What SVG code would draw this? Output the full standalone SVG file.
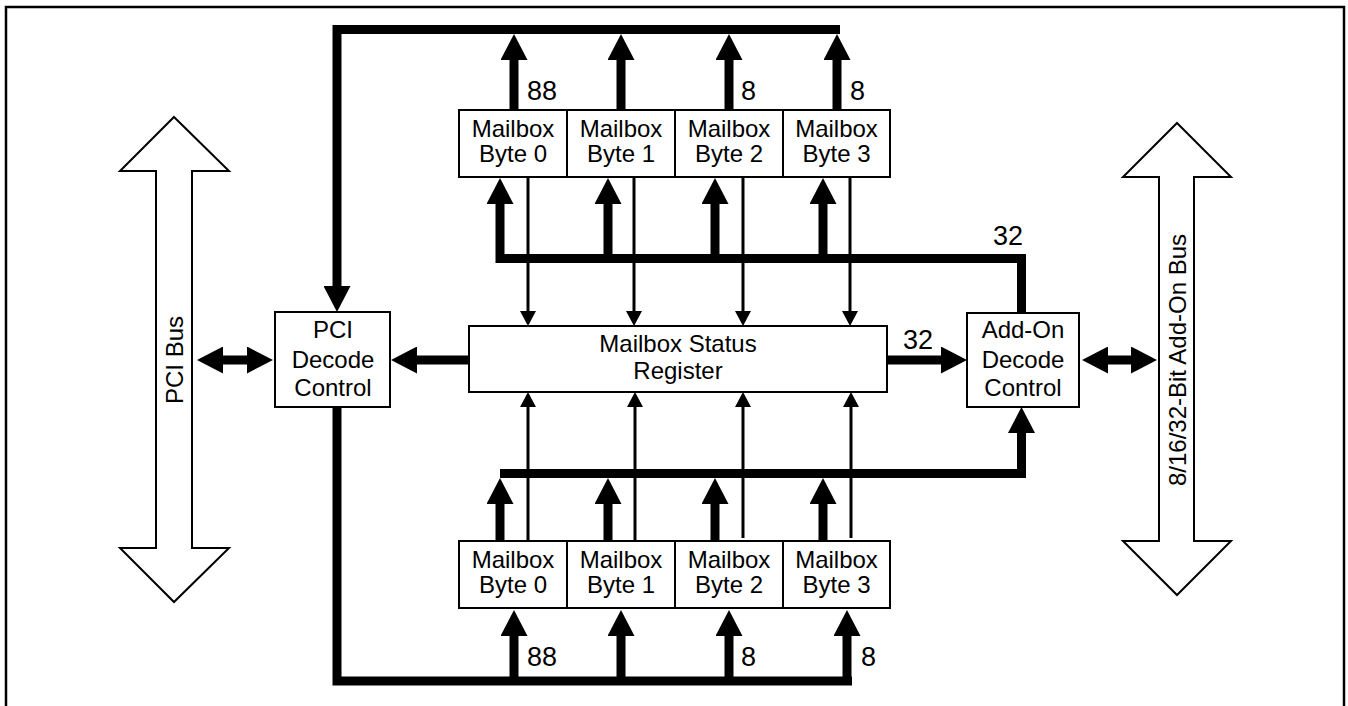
<svg xmlns="http://www.w3.org/2000/svg" width="1348" height="706" viewBox="0 0 1348 706">
<style>
text{font-family:"Liberation Sans",Arial,sans-serif;font-size:24px;fill:#000}
.c{text-anchor:middle}
.n{font-size:27px}
.box{fill:#fff;stroke:#000;stroke-width:2}
.bus{fill:none;stroke:#000;stroke-width:9;stroke-linejoin:miter}
.thin{fill:none;stroke:#000;stroke-width:3}
.big{fill:#fff;stroke:#000;stroke-width:2;stroke-linejoin:miter}
</style>
<defs>
<marker id="ah" markerUnits="userSpaceOnUse" viewBox="0 0 26 27" markerWidth="26" markerHeight="27" refX="0" refY="13.5" orient="auto-start-reverse"><path d="M0,0L26,13.5L0,27z"/></marker>
<marker id="at" markerUnits="userSpaceOnUse" viewBox="0 0 15 16" markerWidth="15" markerHeight="16" refX="0" refY="8" orient="auto"><path d="M0,0L15,8L0,16z"/></marker>
</defs>
<path d="M6,706V7H1344V706" fill="none" stroke="#000" stroke-width="2.5"/>

<g id="pci-bus">
<polygon class="big" points="174,117 229,171 192,171 192,548 229,548 174,602 120,548 156,548 156,171 120,171"/>
<text class="c" transform="translate(182.5,360) rotate(-90)">PCI Bus</text>
</g>
<g id="addon-bus">
<polygon class="big" points="1177,123 1231,177 1194,177 1194,541 1231,541 1177,595 1123,541 1159,541 1159,177 1123,177"/>
<text class="c" transform="translate(1185.5,360) rotate(-90)">8/16/32-Bit Add-On Bus</text>
</g>

<g id="connectors">
<path class="bus" d="M840,29.5H337V286" marker-end="url(#ah)"/>
<path class="bus" d="M514,110V60" marker-end="url(#ah)"/>
<path class="bus" d="M621,110V60" marker-end="url(#ah)"/>
<path class="bus" d="M729,110V60" marker-end="url(#ah)"/>
<path class="bus" d="M837,110V60" marker-end="url(#ah)"/>
<path class="bus" d="M1021.5,313V258.5H500V204" marker-end="url(#ah)"/>
<path class="bus" d="M608,258.5V204" marker-end="url(#ah)"/>
<path class="bus" d="M715,258.5V204" marker-end="url(#ah)"/>
<path class="bus" d="M823,258.5V204" marker-end="url(#ah)"/>
<path class="bus" d="M500,473.5H1021.5V433" marker-end="url(#ah)"/>
<path class="bus" d="M500,541V504" marker-end="url(#ah)"/>
<path class="bus" d="M608,541V504" marker-end="url(#ah)"/>
<path class="bus" d="M715,541V504" marker-end="url(#ah)"/>
<path class="bus" d="M823,541V504" marker-end="url(#ah)"/>
<path class="bus" d="M337,407V681H852"/>
<path class="bus" d="M514,681V636" marker-end="url(#ah)"/>
<path class="bus" d="M621,681V636" marker-end="url(#ah)"/>
<path class="bus" d="M729,681V636" marker-end="url(#ah)"/>
<path class="bus" d="M847,681V636" marker-end="url(#ah)"/>
<path class="bus" d="M469,360H417" marker-end="url(#ah)"/>
<path class="bus" d="M887,360H941" marker-end="url(#ah)"/>
<path class="bus" d="M223,360H247" marker-start="url(#ah)" marker-end="url(#ah)"/>
<path class="bus" d="M1108,360H1131" marker-start="url(#ah)" marker-end="url(#ah)"/>
<path class="thin" d="M528,177V311" marker-end="url(#at)"/>
<path class="thin" d="M634,177V311" marker-end="url(#at)"/>
<path class="thin" d="M743,177V311" marker-end="url(#at)"/>
<path class="thin" d="M850,177V311" marker-end="url(#at)"/>
<path class="thin" d="M528,541V407" marker-end="url(#at)"/>
<path class="thin" d="M635,541V407" marker-end="url(#at)"/>
<path class="thin" d="M743,538V407" marker-end="url(#at)"/>
<path class="thin" d="M851,538V407" marker-end="url(#at)"/>
<text class="n" x="527" y="99.5">88</text>
<text class="n" x="741" y="99.5">8</text>
<text class="n" x="850" y="99.5">8</text>
<text class="n" x="527" y="665.5">88</text>
<text class="n" x="741" y="665.5">8</text>
<text class="n" x="861" y="665.5">8</text>
<text class="c n" x="1008" y="245">32</text>
<text class="c n" x="918" y="349">32</text>
</g>

<g id="top-byte0"><rect class="box" x="459" y="110" width="108" height="67"/><text class="c" x="513" y="136.5">Mailbox</text><text class="c" x="513" y="162">Byte 0</text></g>
<g id="top-byte1"><rect class="box" x="567" y="110" width="108" height="67"/><text class="c" x="621" y="136.5">Mailbox</text><text class="c" x="621" y="162">Byte 1</text></g>
<g id="top-byte2"><rect class="box" x="675" y="110" width="108" height="67"/><text class="c" x="729" y="136.5">Mailbox</text><text class="c" x="729" y="162">Byte 2</text></g>
<g id="top-byte3"><rect class="box" x="783" y="110" width="107" height="67"/><text class="c" x="836.5" y="136.5">Mailbox</text><text class="c" x="836.5" y="162">Byte 3</text></g>

<g id="bot-byte0"><rect class="box" x="459" y="541" width="108" height="67"/><text class="c" x="513" y="567.5">Mailbox</text><text class="c" x="513" y="593">Byte 0</text></g>
<g id="bot-byte1"><rect class="box" x="567" y="541" width="108" height="67"/><text class="c" x="621" y="567.5">Mailbox</text><text class="c" x="621" y="593">Byte 1</text></g>
<g id="bot-byte2"><rect class="box" x="675" y="541" width="108" height="67"/><text class="c" x="729" y="567.5">Mailbox</text><text class="c" x="729" y="593">Byte 2</text></g>
<g id="bot-byte3"><rect class="box" x="783" y="541" width="107" height="67"/><text class="c" x="836.5" y="567.5">Mailbox</text><text class="c" x="836.5" y="593">Byte 3</text></g>

<g id="status"><rect class="box" x="469" y="326" width="418" height="66"/><text class="c" x="678" y="352">Mailbox Status</text><text class="c" x="678" y="379">Register</text></g>
<g id="pci-decode"><rect class="box" x="275" y="312" width="115" height="95"/><text class="c" x="333" y="338">PCI</text><text class="c" x="333" y="368">Decode</text><text class="c" x="333" y="396">Control</text></g>
<g id="addon-decode"><rect class="box" x="967" y="313" width="112" height="94"/><text class="c" x="1023" y="338">Add-On</text><text class="c" x="1023" y="368">Decode</text><text class="c" x="1023" y="396">Control</text></g>
</svg>
